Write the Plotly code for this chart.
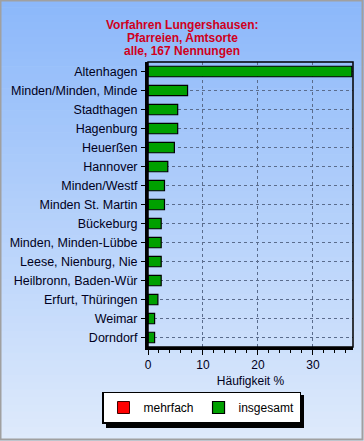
import plotly.graph_objects as go

categories = ["Altenhagen", "Minden/Minden, Minde", "Stadthagen", "Hagenburg", "Heuerßen",
              "Hannover", "Minden/Westf", "Minden St. Martin", "Bückeburg",
              "Minden, Minden-Lübbe", "Leese, Nienburg, Nie", "Heilbronn, Baden-Wür",
              "Erfurt, Thüringen", "Weimar", "Dorndorf"]
insgesamt = [37.1, 7.2, 5.4, 5.4, 4.8, 3.6, 3.0, 3.0, 2.4, 2.4, 2.4, 2.4, 1.8, 1.2, 1.2]
mehrfach = [None] * len(categories)
title_lines = ["Vorfahren Lungershausen:", "Pfarreien, Amtsorte", "alle, 167 Nennungen"]

W, H = 364, 441
L, R, T, B = 148, 11, 62, 94
pw, ph = W - L - R, H - T - B

def px(x):
    return (x - L) / pw

def py(y):
    return (H - B - y) / ph

fig = go.Figure()
fig.add_trace(go.Bar(y=categories, x=mehrfach, orientation="h", name="mehrfach",
                     marker=dict(color="#ff0000", line=dict(color="#400000", width=1)),
                     width=0.55))
fig.add_trace(go.Bar(y=categories, x=insgesamt, orientation="h", name="insgesamt",
                     marker=dict(color="#00a000", line=dict(color="#000000", width=1.2)),
                     width=0.55))

shapes = []
# gradient background
n = 60
c0 = (140, 184, 250)
c1 = (222, 234, 251)
for i in range(n):
    t = i / (n - 1)
    col = tuple(round(c0[k] + (c1[k] - c0[k]) * t) for k in range(3))
    y0 = i * H / n
    y1 = (i + 1) * H / n + 0.5
    shapes.append(dict(type="rect", xref="paper", yref="paper", layer="below",
                       x0=px(0), x1=px(W), y0=py(y1), y1=py(y0),
                       fillcolor="rgb(%d,%d,%d)" % col, line=dict(width=0)))
# outer frame
shapes.append(dict(type="rect", xref="paper", yref="paper", layer="above",
                   x0=px(0.5), x1=px(W - 1.5), y0=py(H - 1.5), y1=py(0.5),
                   line=dict(color="#a0a0a0", width=2), fillcolor="rgba(0,0,0,0)"))
# plot border
shapes.append(dict(type="rect", xref="paper", yref="paper", layer="above",
                   x0=0, x1=1, y0=0, y1=1,
                   line=dict(color="#000000", width=1.5), fillcolor="rgba(0,0,0,0)"))
# legend shadow
lg_cx, lg_cy = 201.5, 407.5
shapes.append(dict(type="rect", xref="paper", yref="paper", layer="above",
                   x0=px(106), x1=px(304), y0=py(428), y1=py(395),
                   line=dict(width=0), fillcolor="#000000"))

# title lines as annotations (tight line spacing like the reference)
annotations = []
for i, line in enumerate(title_lines):
    annotations.append(dict(text="<b>%s</b>" % line, xref="paper", yref="paper",
                            x=px(182), y=py(25 + 13 * i), xanchor="center", yanchor="middle",
                            showarrow=False,
                            font=dict(family="Liberation Sans, Arial, sans-serif", size=12,
                                      color="#d00020")))

fig.update_layout(
    width=W, height=H,
    margin=dict(l=L, r=R, t=T, b=B, pad=0),
    paper_bgcolor="#c8dcfa",
    plot_bgcolor="rgba(0,0,0,0)",
    barmode="overlay",
    shapes=shapes,
    annotations=annotations,
    font=dict(family="Liberation Sans, Arial, sans-serif", size=12, color="#000020"),
    showlegend=True,
    legend=dict(orientation="h", x=px(lg_cx), xanchor="center", y=py(lg_cy), yanchor="middle",
                bgcolor="#ffffff", bordercolor="#000000", borderwidth=1.5,
                font=dict(size=12, color="#000000"), traceorder="normal",
                itemwidth=30, tracegroupgap=0),
    xaxis=dict(range=[0, 37.3], tickvals=[0, 10, 20, 30], ticks="outside", ticklen=5,
               tickcolor="#000000", showline=True, linecolor="#000000", linewidth=3,
               showgrid=True, gridcolor="#5a6c8c", griddash="3px,3px", gridwidth=1,
               zeroline=False, automargin=False,
               minor=dict(tickvals=[2, 4, 6, 8, 12, 14, 16, 18, 22, 24, 26, 28, 32, 34, 36],
                          ticks="outside", ticklen=3, tickcolor="#000000", showgrid=False),
               title=dict(text="Häufigkeit %", standoff=6, font=dict(size=12)),
               tickfont=dict(size=12)),
    yaxis=dict(autorange="reversed", ticks="outside", ticklen=4, tickcolor="#000000",
               showline=True, linecolor="#000000", linewidth=3, automargin=False,
               showgrid=True, gridcolor="#5a6c8c", griddash="3px,3px", gridwidth=1,
               tickfont=dict(size=12.5), ticklabelstandoff=1),
)

fig.write_html("out.html", config={"displayModeBar": False},
               post_script="document.body.style.margin='0';document.body.style.padding='0';")
